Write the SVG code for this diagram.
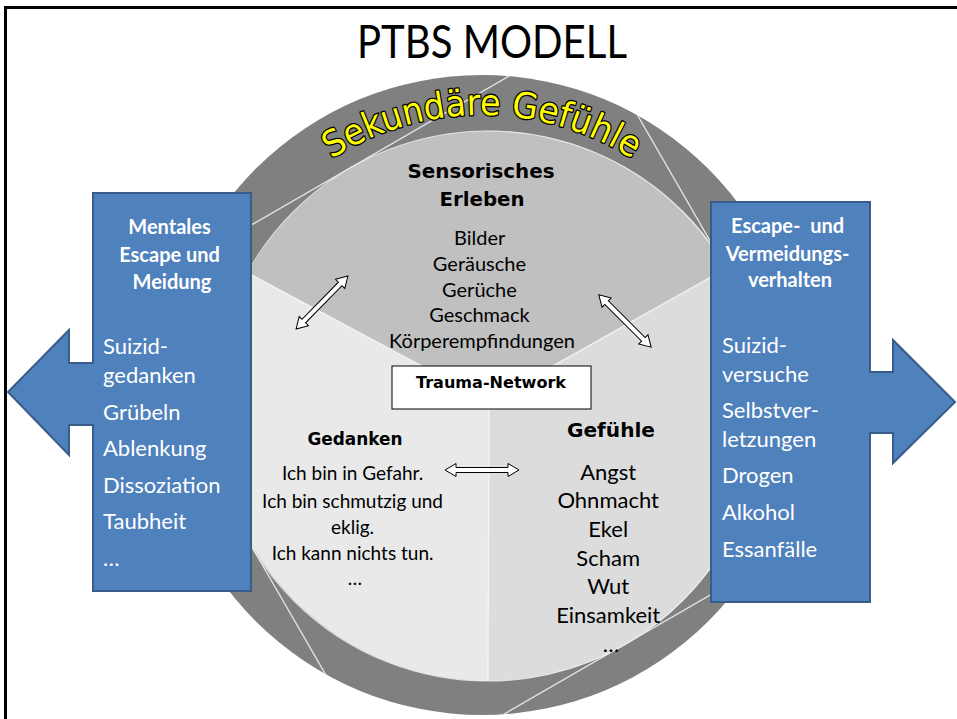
<svg xmlns="http://www.w3.org/2000/svg" xmlns:xlink="http://www.w3.org/1999/xlink" width="957" height="719" viewBox="0 0 957 719">
  <style>
    .body { font-family: Lato, "Open Sans", "DejaVu Sans", sans-serif; fill: #000; }
    .comic { font-family: "DejaVu Sans", Lato, sans-serif; font-weight: bold; fill: #000; }
    .white { font-family: Lato, "Open Sans", sans-serif; fill: #fff; }
    .whead { font-family: Lato, "Open Sans", sans-serif; font-weight: bold; fill: #fff; }
    .mid { text-anchor: middle; }
    .chord { stroke: #e6e6e6; stroke-width: 1.3; fill: none; }
    .divider { stroke: #f6f6f6; stroke-width: 1.3; fill: none; }
    .blue { fill: #4f81bd; stroke: #385d8a; stroke-width: 2; }
    .dbl { fill: #fff; stroke: #000; stroke-width: 1; }
  </style>
  <defs>
    <clipPath id="ringClip"><circle cx="482" cy="395" r="320"/></clipPath>
    <path id="dblArrow" d="M -37 0 L -26 -6.5 L -26 -2.5 L 26 -2.5 L 26 -6.5 L 37 0 L 26 6.5 L 26 2.5 L -26 2.5 L -26 6.5 Z"/>
    <path id="arcPath" d="M 202 395 A 280 280 0 0 1 762 395"/>
  </defs>

  <!-- frame -->
  <g id="frame">
    <line x1="4" y1="7.5" x2="957" y2="7.5" stroke="#000" stroke-width="3"/>
    <line x1="5.5" y1="6" x2="5.5" y2="719" stroke="#000" stroke-width="3"/>
  </g>

  <!-- title -->
  <text class="body mid" x="492" y="58" font-size="46" textLength="270" lengthAdjust="spacingAndGlyphs">PTBS MODELL</text>

  <!-- outer ring with tangent chords -->
  <g id="ring">
    <circle cx="482" cy="395" r="320" fill="#808080"/>
    <g clip-path="url(#ringClip)">
      <line class="chord" x1="4" y1="368" x2="696" y2="-32"/>
      <line class="chord" x1="526" y1="-78" x2="926" y2="615"/>
      <line class="chord" x1="50" y1="197" x2="450" y2="890"/>
      <line class="chord" x1="279" y1="844" x2="972" y2="444"/>
    </g>
  </g>

  <!-- inner pie -->
  <g id="pie">
    <path d="M 489 402 L 248 273 A 275 275 0 0 1 727 268 Z" fill="#c0c0c0"/>
    <path d="M 489 402 L 488 681 A 275 275 0 0 1 248 273 Z" fill="#e9e9e9"/>
    <path d="M 489 402 L 727 268 A 275 275 0 0 1 488 681 Z" fill="#dcdcdc"/>
    <circle cx="488" cy="406" r="275" fill="none" stroke="#f0f0f0" stroke-width="1.2" opacity="0.8"/>
    <path class="divider" d="M 248 273 L 489 402 L 727 268 M 489 402 L 488 681"/>
  </g>

  <!-- curved label on the ring -->
  <g id="secondary">
    <text font-family="'DejaVu Sans', sans-serif" font-size="36" fill="#ffff00" stroke="#000" stroke-width="2.6" paint-order="stroke" stroke-linejoin="round">
      <textPath href="#arcPath" xlink:href="#arcPath" startOffset="50%" text-anchor="middle" textLength="318" lengthAdjust="spacingAndGlyphs">Sekundäre Gefühle</textPath>
    </text>
  </g>

  <!-- sensory sector -->
  <g id="sensorisch">
    <text class="comic mid" x="481" y="178" font-size="20" textLength="147" lengthAdjust="spacingAndGlyphs">Sensorisches</text>
    <text class="comic mid" x="482" y="206" font-size="20" textLength="85" lengthAdjust="spacingAndGlyphs">Erleben</text>
    <text class="body mid" font-size="20">
      <tspan x="482" y="245">Bilder</tspan>
      <tspan x="482" y="271">Geräusche</tspan>
      <tspan x="482" y="297">Gerüche</tspan>
      <tspan x="482" y="322">Geschmack</tspan>
      <tspan x="482" y="348">Körperempfindungen</tspan>
    </text>
  </g>

  <!-- thoughts sector -->
  <g id="gedanken">
    <text class="comic mid" x="355" y="445" font-size="18" textLength="95" lengthAdjust="spacingAndGlyphs">Gedanken</text>
    <text class="body mid" font-size="19">
      <tspan x="355" y="480">Ich bin in Gefahr.</tspan>
      <tspan x="355" y="508">Ich bin schmutzig und</tspan>
      <tspan x="355" y="534">eklig.</tspan>
      <tspan x="355" y="560">Ich kann nichts tun.</tspan>
      <tspan x="355" y="585">…</tspan>
    </text>
  </g>

  <!-- feelings sector -->
  <g id="gefuehle">
    <text class="comic mid" x="611" y="437" font-size="20" textLength="88" lengthAdjust="spacingAndGlyphs">Gefühle</text>
    <text class="body mid" font-size="22">
      <tspan x="611" y="480">Angst</tspan>
      <tspan x="611" y="508">Ohnmacht</tspan>
      <tspan x="611" y="537">Ekel</tspan>
      <tspan x="611" y="566">Scham</tspan>
      <tspan x="611" y="594">Wut</tspan>
      <tspan x="611" y="623">Einsamkeit</tspan>
      <tspan x="611" y="652">…</tspan>
    </text>
  </g>

  <!-- centre box -->
  <g id="trauma">
    <rect x="392" y="366" width="199" height="43" fill="#fff" stroke="#000" stroke-width="1"/>
    <text class="comic mid" x="491" y="388" font-size="16" textLength="150" lengthAdjust="spacingAndGlyphs">Trauma-Network</text>
  </g>

  <!-- two-headed connectors -->
  <g id="connectors">
    <use href="#dblArrow" xlink:href="#dblArrow" class="dbl" transform="translate(322 302.5) rotate(-45.6)"/>
    <use href="#dblArrow" xlink:href="#dblArrow" class="dbl" transform="translate(625 321) rotate(45)"/>
    <use href="#dblArrow" xlink:href="#dblArrow" class="dbl" transform="translate(482 470)"/>
  </g>

  <!-- left block arrow -->
  <g id="mental-escape">
    <path class="blue" d="M 93 193 L 251 193 L 251 591 L 93 591 L 93 425 L 69 425 L 69 455 L 8 392 L 69 330 L 69 363 L 93 363 Z"/>
    <text class="whead mid" font-size="20">
      <tspan x="172" y="234">Mentales</tspan>
      <tspan x="172" y="262">Escape und</tspan>
      <tspan x="172" y="289">Meidung</tspan>
    </text>
    <text class="white" font-size="22">
      <tspan x="103" y="354">Suizid-</tspan>
      <tspan x="103" y="383">gedanken</tspan>
      <tspan x="103" y="420">Grübeln</tspan>
      <tspan x="103" y="456">Ablenkung</tspan>
      <tspan x="103" y="493">Dissoziation</tspan>
      <tspan x="103" y="529">Taubheit</tspan>
      <tspan x="103" y="566">…</tspan>
    </text>
  </g>

  <!-- right block arrow -->
  <g id="behaviour-escape">
    <path class="blue" d="M 711 202 L 870 202 L 870 372 L 893 372 L 893 340 L 955 402 L 893 463 L 893 433 L 870 433 L 870 602 L 711 602 Z"/>
    <text class="whead mid" font-size="20">
      <tspan x="790" y="233">Escape-&#160; und</tspan>
      <tspan x="790" y="261">Vermeidungs-</tspan>
      <tspan x="790" y="287">verhalten</tspan>
    </text>
    <text class="white" font-size="22">
      <tspan x="722" y="353">Suizid-</tspan>
      <tspan x="722" y="382">versuche</tspan>
      <tspan x="722" y="418">Selbstver-</tspan>
      <tspan x="722" y="447">letzungen</tspan>
      <tspan x="722" y="483">Drogen</tspan>
      <tspan x="722" y="520">Alkohol</tspan>
      <tspan x="722" y="557">Essanfälle</tspan>
    </text>
  </g>
</svg>
